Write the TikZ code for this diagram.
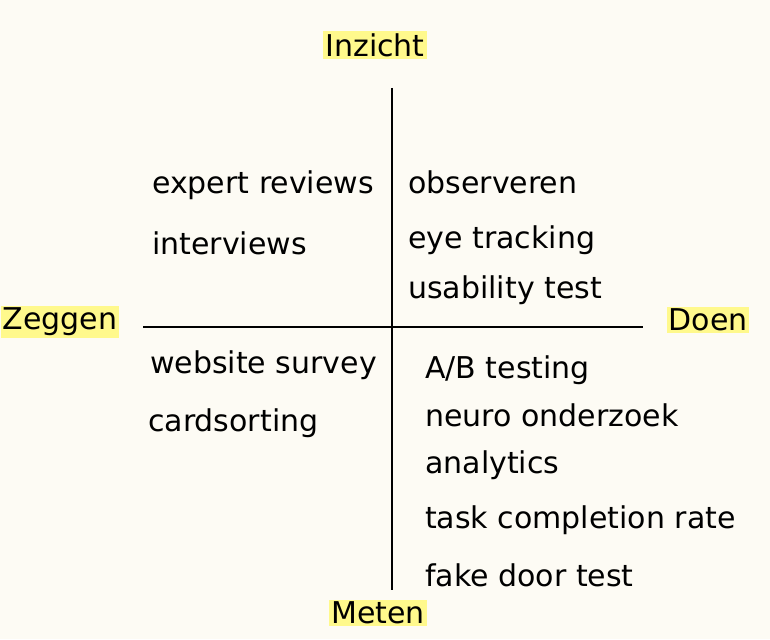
\documentclass[tikz,border=0pt]{standalone}
\usepackage{fontspec}
\setmainfont{DejaVu Sans}
\begin{document}
\begin{tikzpicture}[x=1pt,y=-1pt,
  item/.style={anchor=west,inner sep=0pt,font=\fontsize{30}{32}\selectfont},
  axis/.style={inner sep=2pt,fill=yellow!45,font=\fontsize{30}{32}\selectfont},
  line/.style={line width=2.5pt,black}]
\fill[fill={rgb,255:red,253;green,251;blue,244}] (0,0) rectangle (770,639);
\useasboundingbox (0,0) rectangle (770,639);
\coordinate (vt) at (392,88); \coordinate (vb) at (392,590);
\coordinate (hl) at (143,327); \coordinate (hr) at (643,327);
\draw[line] (vt) -- (vb);
\draw[line] (hl) -- (hr);
\node[axis] (inz) at (375,45) {Inzicht};
\node[axis] (zeg) at (60,322) {Zeggen};
\node[axis] (doe) at (708,320) {Doen};
\node[axis] (met) at (378,613) {Meten};
\node[item] (a1) at (152,185) {expert reviews};
\node[item] (a2) at (152,243) {interviews};
\node[item] (b1) at (408,182) {observeren};
\node[item] (b2) at (408,240) {eye tracking};
\node[item] (b3) at (408,290) {usability test};
\node[item] (c1) at (150,365) {website survey};
\node[item] (c2) at (148,423) {cardsorting};
\node[item] (d1) at (425,370) {A/B testing};
\node[item] (d2) at (425,415) {neuro onderzoek};
\node[item] (d3) at (425,465) {analytics};
\node[item] (d4) at (425,520) {task completion rate};
\node[item] (d5) at (425,575) {fake door test};
\end{tikzpicture}
\end{document}
